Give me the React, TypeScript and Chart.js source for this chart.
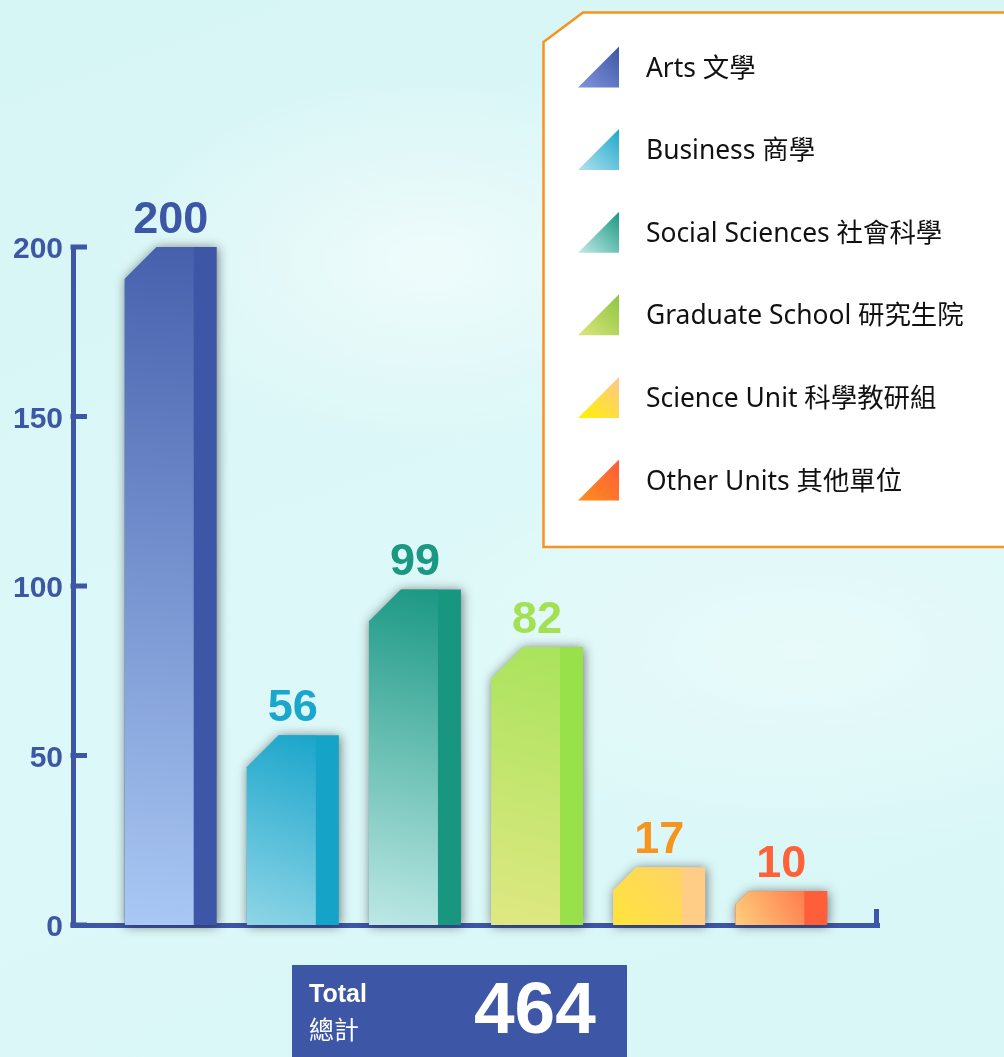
import React, { useEffect, useRef } from 'react';
import { Chart, registerables } from 'chart.js';

Chart.register(...registerables);

// ---- data ----
const categories = [
  'Arts 文學',
  'Business 商學',
  'Social Sciences 社會科學',
  'Graduate School 研究生院',
  'Science Unit 科學教研組',
  'Other Units 其他單位',
];
const values = [200, 56, 99, 82, 17, 10];
const yTicks = [0, 50, 100, 150, 200];
const totalLabel = 'Total';
const totalLabelZh = '總計';
const total = values.reduce((a, b) => a + b, 0);

// ---- styles ----
const axisColor = '#3d56a6';
const valueColors = ['#3d56a6', '#1ba7cc', '#1a9882', '#a3e052', '#f7941d', '#ff6138'];
const barLight = ['#aac8f4', '#8ed5e6', '#bde8e5', '#dfe882', '#ffe43c', '#ffcf7c'];
const barDark = ['#4760ad', '#1aa5cb', '#1b9884', '#a9e35c', '#ffd366', '#ff7c4e'];
const barSide = ['#3d56a6', '#15a3c8', '#19967f', '#98e14a', '#ffcd85', '#ff5e3a'];
const legendLight = ['#8196db', '#b3e2ee', '#c3eae7', '#dde57e', '#fff200', '#ff8f1c'];
const legendDark = ['#3d56a6', '#1ea8cc', '#1a9882', '#8cc63f', '#ffc68c', '#ff5a3a'];

const shapedBars = {
  id: 'shapedBars',
  afterDatasetsDraw(chart: any) {
    const ctx = chart.ctx as CanvasRenderingContext2D;
    const meta = chart.getDatasetMeta(0);
    ctx.save();
    meta.data.forEach((el: any, i: number) => {
      const p = el.getProps(['x', 'y', 'base', 'width'], true);
      const L = p.x - p.width / 2;
      const R = p.x + p.width / 2;
      const T = p.y;
      const B = p.base;
      const h = B - T;
      const c = Math.min(32, h * 0.4);
      const side = 23;
      const path = () => {
        ctx.beginPath();
        ctx.moveTo(L, B);
        ctx.lineTo(L, T + c);
        ctx.lineTo(L + c, T);
        ctx.lineTo(R, T);
        ctx.lineTo(R, B);
        ctx.closePath();
      };
      ctx.save();
      ctx.shadowColor = 'rgba(30,30,30,0.6)';
      ctx.shadowBlur = 11;
      ctx.shadowOffsetX = 1;
      ctx.shadowOffsetY = 1;
      ctx.fillStyle = barSide[i];
      path();
      ctx.fill();
      ctx.restore();

      ctx.save();
      path();
      ctx.clip();
      const g = ctx.createLinearGradient(L, B, R - side, T);
      g.addColorStop(0, barLight[i]);
      g.addColorStop(1, barDark[i]);
      ctx.fillStyle = g;
      ctx.fillRect(L, T, R - side - L, h);
      ctx.restore();

      ctx.fillStyle = valueColors[i];
      ctx.font = 'bold 45px "Liberation Sans", Arial, sans-serif';
      ctx.textAlign = 'center';
      ctx.textBaseline = 'alphabetic';
      ctx.fillText(String(values[i]), p.x, T - 14);
    });
    ctx.restore();
  },
  afterDraw(chart: any) {
    const ctx = chart.ctx as CanvasRenderingContext2D;
    const area = chart.chartArea;
    const yScale = chart.scales.y;
    ctx.save();
    ctx.fillStyle = axisColor;
    yScale.ticks.forEach((t: any) => {
      const py = yScale.getPixelForValue(t.value);
      ctx.fillRect(area.left - 2.5, py - 2.5, 16.5, 5);
    });
    ctx.fillRect(area.left - 2.5, area.bottom - 2.5, 5, 5);
    ctx.fillRect(area.right - 5, area.bottom - 16, 5, 18.5);
    ctx.restore();
  },
};

export default function App() {
  const ref = useRef<HTMLCanvasElement>(null);

  useEffect(() => {
    if (!ref.current) return;
    const chart = new Chart(ref.current, {
      type: 'bar',
      data: {
        labels: categories,
        datasets: [
          {
            data: values.map((v, i) => ({ x: i, y: v })),
            backgroundColor: 'rgba(0,0,0,0)',
            borderWidth: 0,
            barThickness: 92,
          } as any,
        ],
      },
      options: {
        animation: false,
        responsive: false,
        devicePixelRatio: 1,
        events: [],
        layout: { padding: { top: 247, right: 125, bottom: 0, left: 0 } },
        plugins: { legend: { display: false }, tooltip: { enabled: false } },
        scales: {
          x: {
            type: 'linear',
            min: -0.8,
            max: 5.8,
            offset: false,
            z: 1,
            grid: { display: false, drawTicks: false },
            ticks: { display: false },
            border: { display: true, color: axisColor, width: 5 },
            afterFit: (s: any) => {
              s.height = 1057 - 925;
            },
          },
          y: {
            min: 0,
            max: 200,
            z: 1,
            afterBuildTicks: (s: any) => {
              s.ticks = yTicks.map((v) => ({ value: v }));
            },
            grid: { display: false, drawTicks: false },
            border: { display: true, color: axisColor, width: 5 },
            ticks: {
              color: axisColor,
              padding: 10,
              labelOffset: 3,
              font: { family: '"Liberation Sans", Arial, sans-serif', weight: 'bold', size: 30 },
            },
            afterFit: (s: any) => {
              s.width = 73;
            },
          },
        } as any,
      },
      plugins: [shapedBars],
    });
    return () => chart.destroy();
  }, []);

  const legendFont = "'Noto Sans', 'Noto Sans CJK TC', sans-serif";
  const boldFont = "'Liberation Sans', Arial, sans-serif";

  return (
    <div
      style={{
        position: 'absolute',
        left: 0,
        top: 0,
        width: 1004,
        height: 1057,
        overflow: 'hidden',
        background:
          'radial-gradient(ellipse 320px 190px at 430px 260px, rgba(255,255,255,0.55), rgba(255,255,255,0) 100%),' +
          'radial-gradient(ellipse 420px 200px at 800px 650px, rgba(255,255,255,0.35), rgba(255,255,255,0) 100%),' +
          'linear-gradient(160deg, #d6f5f5 0%, #ddf8f8 50%, #d9f7f7 100%)',
      }}
    >
      <canvas ref={ref} width={1004} height={1057} style={{ position: 'absolute', left: 0, top: 0 }} />
      <svg width={1004} height={1057} style={{ position: 'absolute', left: 0, top: 0, pointerEvents: 'none' }}>
        <defs>
          {categories.map((_, i) => (
            <linearGradient key={i} id={`lg${i}`} x1="0" y1="1" x2="1" y2="0">
              <stop offset="0" stopColor={legendLight[i]} />
              <stop offset="1" stopColor={legendDark[i]} />
            </linearGradient>
          ))}
        </defs>
        <polygon
          points="543.5,42 583,12.5 1012,12.5 1012,547 543.5,547"
          fill="#ffffff"
          stroke="#f7941d"
          strokeWidth={2.5}
        />
        {categories.map((c, i) => {
          const cy = 67 + i * 82.6;
          return (
            <g key={c}>
              <polygon points={`578,${cy + 20.5} 619,${cy - 20.5} 619,${cy + 20.5}`} fill={`url(#lg${i})`} />
              <text x={646} y={cy + 9.5} fontFamily={legendFont} fontSize={26.4} fill="#111111">
                {c}
              </text>
            </g>
          );
        })}
        <rect x={292} y={965} width={335} height={100} fill={axisColor} />
        <text x={309} y={1002} fontFamily={boldFont} fontWeight="bold" fontSize={25} fill="#ffffff">
          {totalLabel}
        </text>
        <text x={309} y={1039} fontFamily={legendFont} fontSize={25} fill="#ffffff">
          {totalLabelZh}
        </text>
        <text x={474} y={1033} fontFamily={boldFont} fontWeight="bold" fontSize={73} fill="#ffffff">
          {String(total)}
        </text>
      </svg>
    </div>
  );
}
